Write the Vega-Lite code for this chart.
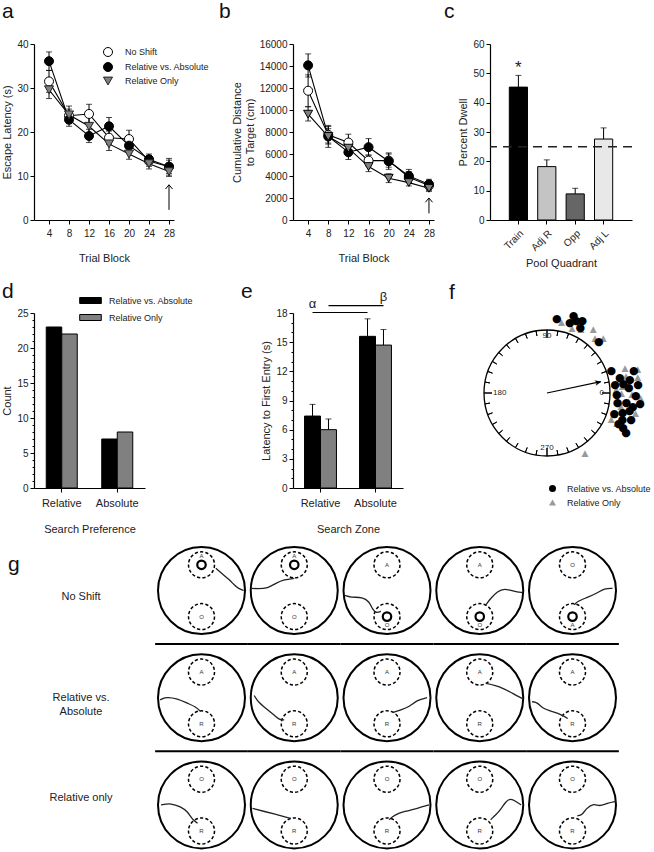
{
"$schema": "https://vega.github.io/schema/vega-lite/v6.json",
"padding": {"left": 1, "top": 1, "right": 0, "bottom": 0},
"spacing": 11,
"resolve": {
  "scale": {"fill": "independent", "shape": "independent", "color": "independent", "stroke": "independent", "xOffset": "independent", "theta": "independent", "radius": "independent"},
  "legend": {"fill": "independent", "shape": "independent", "color": "independent", "stroke": "independent"}
},
"config": {
  "font": "Liberation Sans",
  "view": {"stroke": null},
  "axis": {"labelFont": "Liberation Sans", "titleFont": "Liberation Sans", "labelFontSize": 10, "titleFontSize": 11, "titleFontWeight": "normal", "labelColor": "#222", "titleColor": "#222", "domainColor": "#000", "tickColor": "#000", "grid": false, "tickSize": 4, "labelPadding": 2, "domainWidth": 1.2, "labelOverlap": false},
  "axisX": {"titlePadding": 14, "labelPadding": 4},
  "title": {"fontSize": 21, "fontWeight": "normal", "anchor": "start", "frame": "group", "baseline": "alphabetic", "color": "#111", "font": "Liberation Sans"},
  "legend": {"labelFont": "Liberation Sans", "labelFontSize": 9, "labelColor": "#222"}
},
"datasets": {
  "lat": [
    {"block":4,"series":"No Shift","mean":31.5,"lo":29,"hi":34},
    {"block":8,"series":"No Shift","mean":23.7,"lo":22.2,"hi":25.2},
    {"block":12,"series":"No Shift","mean":24.1,"lo":22,"hi":26.3},
    {"block":16,"series":"No Shift","mean":18.7,"lo":17.2,"hi":20.2},
    {"block":20,"series":"No Shift","mean":18.4,"lo":16.4,"hi":20.4},
    {"block":24,"series":"No Shift","mean":13.4,"lo":12.2,"hi":14.6},
    {"block":28,"series":"No Shift","mean":12.1,"lo":10.2,"hi":14.0},
    {"block":4,"series":"Relative vs. Absolute","mean":36.1,"lo":34,"hi":38.2},
    {"block":8,"series":"Relative vs. Absolute","mean":22.8,"lo":21.3,"hi":24.3},
    {"block":12,"series":"Relative vs. Absolute","mean":19.1,"lo":17.6,"hi":20.6},
    {"block":16,"series":"Relative vs. Absolute","mean":21.3,"lo":19.3,"hi":23.3},
    {"block":20,"series":"Relative vs. Absolute","mean":16.9,"lo":15.4,"hi":18.4},
    {"block":24,"series":"Relative vs. Absolute","mean":13.8,"lo":12.6,"hi":15.0},
    {"block":28,"series":"Relative vs. Absolute","mean":12.1,"lo":10.6,"hi":13.6},
    {"block":4,"series":"Relative Only","mean":29.6,"lo":27.6,"hi":31.6},
    {"block":8,"series":"Relative Only","mean":23.9,"lo":21.9,"hi":25.9},
    {"block":12,"series":"Relative Only","mean":21.3,"lo":19.3,"hi":23.3},
    {"block":16,"series":"Relative Only","mean":17.3,"lo":15.8,"hi":18.8},
    {"block":20,"series":"Relative Only","mean":15.0,"lo":13.8,"hi":16.2},
    {"block":24,"series":"Relative Only","mean":12.8,"lo":11.6,"hi":14.0},
    {"block":28,"series":"Relative Only","mean":11.0,"lo":9.9,"hi":12.1}
  ],
  "dist": [
    {"block":4,"series":"No Shift","mean":11750,"lo":10300,"hi":13200},
    {"block":8,"series":"No Shift","mean":7740,"lo":7000,"hi":8500},
    {"block":12,"series":"No Shift","mean":7040,"lo":6300,"hi":7800},
    {"block":16,"series":"No Shift","mean":5400,"lo":4900,"hi":5900},
    {"block":20,"series":"No Shift","mean":5400,"lo":4800,"hi":6000},
    {"block":24,"series":"No Shift","mean":3890,"lo":3400,"hi":4400},
    {"block":28,"series":"No Shift","mean":3130,"lo":2700,"hi":3550},
    {"block":4,"series":"Relative vs. Absolute","mean":14060,"lo":13000,"hi":15100},
    {"block":8,"series":"Relative vs. Absolute","mean":7590,"lo":6600,"hi":8600},
    {"block":12,"series":"Relative vs. Absolute","mean":6160,"lo":5500,"hi":6800},
    {"block":16,"series":"Relative vs. Absolute","mean":6620,"lo":5900,"hi":7400},
    {"block":20,"series":"Relative vs. Absolute","mean":5340,"lo":4600,"hi":6100},
    {"block":24,"series":"Relative vs. Absolute","mean":4010,"lo":3400,"hi":4600},
    {"block":28,"series":"Relative vs. Absolute","mean":3250,"lo":2800,"hi":3700},
    {"block":4,"series":"Relative Only","mean":9620,"lo":9000,"hi":10300},
    {"block":8,"series":"Relative Only","mean":7590,"lo":6900,"hi":8300},
    {"block":12,"series":"Relative Only","mean":6530,"lo":6000,"hi":7100},
    {"block":16,"series":"Relative Only","mean":4860,"lo":4400,"hi":5300},
    {"block":20,"series":"Relative Only","mean":3800,"lo":3400,"hi":4200},
    {"block":24,"series":"Relative Only","mean":3400,"lo":3100,"hi":3700},
    {"block":28,"series":"Relative Only","mean":2880,"lo":2600,"hi":3150}
  ],
  "dwell": [
    {"quad":"Train","pct":45.3,"hi":49.3,"sig":"*"},
    {"quad":"Adj R","pct":18.2,"hi":20.5,"sig":""},
    {"quad":"Opp","pct":8.9,"hi":10.8,"sig":""},
    {"quad":"Adj L","pct":27.6,"hi":31.4,"sig":""}
  ],
  "pref": [
    {"pref":"Relative","grp":"Relative vs. Absolute","count":23},
    {"pref":"Relative","grp":"Relative Only","count":22},
    {"pref":"Absolute","grp":"Relative vs. Absolute","count":7},
    {"pref":"Absolute","grp":"Relative Only","count":8}
  ],
  "entry": [
    {"zone":"Relative","grp":"Relative vs. Absolute","lat":7.4,"hi":8.6},
    {"zone":"Relative","grp":"Relative Only","lat":6.0,"hi":7.1},
    {"zone":"Absolute","grp":"Relative vs. Absolute","lat":15.6,"hi":17.4},
    {"zone":"Absolute","grp":"Relative Only","lat":14.7,"hi":16.3}
  ],
  "sig": [
    {"zone":"Relative","grp":"Relative vs. Absolute","v":18.05,"s":"α"},
    {"zone":"Absolute","grp":"Relative vs. Absolute","v":18.05,"s":"α"},
    {"zone":"Relative","grp":"Relative Only","v":18.75,"s":"β"},
    {"zone":"Absolute","grp":"Relative Only","v":18.75,"s":"β"}
  ],
  "dots": [
    {"grp":"Relative Only","a":78.5,"r":1.15},
    {"grp":"Relative Only","a":69,"r":1.11},
    {"grp":"Relative Only","a":62,"r":1.15},
    {"grp":"Relative Only","a":54,"r":1.25},
    {"grp":"Relative Only","a":49,"r":1.16},
    {"grp":"Relative Only","a":44.5,"r":1.25},
    {"grp":"Relative Only","a":15,"r":1.49},
    {"grp":"Relative Only","a":18,"r":1.3},
    {"grp":"Relative Only","a":12,"r":1.28},
    {"grp":"Relative Only","a":10,"r":1.46},
    {"grp":"Relative Only","a":5,"r":1.2},
    {"grp":"Relative Only","a":3,"r":1.1},
    {"grp":"Relative Only","a":0,"r":1.18},
    {"grp":"Relative Only","a":-1,"r":1.35},
    {"grp":"Relative Only","a":-3,"r":1.49},
    {"grp":"Relative Only","a":-5.5,"r":1.3},
    {"grp":"Relative Only","a":-10,"r":1.19},
    {"grp":"Relative Only","a":-12.5,"r":1.44},
    {"grp":"Relative Only","a":-17.5,"r":1.12},
    {"grp":"Relative Only","a":-22,"r":1.1},
    {"grp":"Relative Only","a":-23,"r":1.2},
    {"grp":"Relative Only","a":-57.5,"r":1.12},
    {"grp":"Relative vs. Absolute","a":82.5,"r":1.18},
    {"grp":"Relative vs. Absolute","a":71,"r":1.29},
    {"grp":"Relative vs. Absolute","a":68,"r":1.24},
    {"grp":"Relative vs. Absolute","a":72,"r":1.17},
    {"grp":"Relative vs. Absolute","a":64,"r":1.28},
    {"grp":"Relative vs. Absolute","a":63,"r":1.16},
    {"grp":"Relative vs. Absolute","a":44.5,"r":1.15},
    {"grp":"Relative vs. Absolute","a":19,"r":1.08},
    {"grp":"Relative vs. Absolute","a":12,"r":1.18},
    {"grp":"Relative vs. Absolute","a":14,"r":1.42},
    {"grp":"Relative vs. Absolute","a":9,"r":1.33},
    {"grp":"Relative vs. Absolute","a":7,"r":1.09},
    {"grp":"Relative vs. Absolute","a":6.5,"r":1.22},
    {"grp":"Relative vs. Absolute","a":5,"r":1.45},
    {"grp":"Relative vs. Absolute","a":3.5,"r":1.3},
    {"grp":"Relative vs. Absolute","a":-2,"r":1.11},
    {"grp":"Relative vs. Absolute","a":-2,"r":1.41},
    {"grp":"Relative vs. Absolute","a":-7,"r":1.27},
    {"grp":"Relative vs. Absolute","a":-7,"r":1.49},
    {"grp":"Relative vs. Absolute","a":-8,"r":1.13},
    {"grp":"Relative vs. Absolute","a":-9,"r":1.38},
    {"grp":"Relative vs. Absolute","a":-14.5,"r":1.24},
    {"grp":"Relative vs. Absolute","a":-12,"r":1.34},
    {"grp":"Relative vs. Absolute","a":-17.5,"r":1.12},
    {"grp":"Relative vs. Absolute","a":-17.5,"r":1.4},
    {"grp":"Relative vs. Absolute","a":-19.5,"r":1.27},
    {"grp":"Relative vs. Absolute","a":-23.5,"r":1.24},
    {"grp":"Relative vs. Absolute","a":-25,"r":1.33},
    {"grp":"Relative vs. Absolute","a":-27,"r":1.41}
  ],
  "gdata": [
    {"k":"pool","g":"No Shift","t":1},{"k":"pool","g":"No Shift","t":2},{"k":"pool","g":"No Shift","t":3},{"k":"pool","g":"No Shift","t":4},{"k":"pool","g":"No Shift","t":5},
    {"k":"pool","g":"Relative vs. Absolute","t":1},{"k":"pool","g":"Relative vs. Absolute","t":2},{"k":"pool","g":"Relative vs. Absolute","t":3},{"k":"pool","g":"Relative vs. Absolute","t":4},{"k":"pool","g":"Relative vs. Absolute","t":5},
    {"k":"pool","g":"Relative only","t":1},{"k":"pool","g":"Relative only","t":2},{"k":"pool","g":"Relative only","t":3},{"k":"pool","g":"Relative only","t":4},{"k":"pool","g":"Relative only","t":5},
    {"k":"zone","g":"No Shift","t":1,"x":0,"y":0.59,"lab":"A","ring":true,"ly":0.79},
    {"k":"zone","g":"No Shift","t":1,"x":0,"y":-0.6,"lab":"O","ring":false,"ly":-0.6},
    {"k":"zone","g":"No Shift","t":2,"x":0,"y":0.59,"lab":"A","ring":true,"ly":0.79},
    {"k":"zone","g":"No Shift","t":2,"x":0,"y":-0.6,"lab":"O","ring":false,"ly":-0.6},
    {"k":"zone","g":"No Shift","t":3,"x":0,"y":0.59,"lab":"A","ring":false,"ly":0.59},
    {"k":"zone","g":"No Shift","t":3,"x":0,"y":-0.6,"lab":"O","ring":true,"ly":-0.8},
    {"k":"zone","g":"No Shift","t":4,"x":0,"y":0.59,"lab":"A","ring":false,"ly":0.59},
    {"k":"zone","g":"No Shift","t":4,"x":0,"y":-0.6,"lab":"O","ring":true,"ly":-0.8},
    {"k":"zone","g":"No Shift","t":5,"x":0,"y":0.59,"lab":"O","ring":false,"ly":0.59},
    {"k":"zone","g":"No Shift","t":5,"x":0,"y":-0.6,"lab":"A","ring":true,"ly":-0.8},
    {"k":"zone","g":"Relative vs. Absolute","t":1,"x":0,"y":0.59,"lab":"A","ring":false,"ly":0.59},
    {"k":"zone","g":"Relative vs. Absolute","t":1,"x":0,"y":-0.6,"lab":"R","ring":false,"ly":-0.6},
    {"k":"zone","g":"Relative vs. Absolute","t":2,"x":0,"y":0.59,"lab":"A","ring":false,"ly":0.59},
    {"k":"zone","g":"Relative vs. Absolute","t":2,"x":0,"y":-0.6,"lab":"R","ring":false,"ly":-0.6},
    {"k":"zone","g":"Relative vs. Absolute","t":3,"x":0,"y":0.59,"lab":"A","ring":false,"ly":0.59},
    {"k":"zone","g":"Relative vs. Absolute","t":3,"x":0,"y":-0.6,"lab":"R","ring":false,"ly":-0.6},
    {"k":"zone","g":"Relative vs. Absolute","t":4,"x":0,"y":0.59,"lab":"A","ring":false,"ly":0.59},
    {"k":"zone","g":"Relative vs. Absolute","t":4,"x":0,"y":-0.6,"lab":"R","ring":false,"ly":-0.6},
    {"k":"zone","g":"Relative vs. Absolute","t":5,"x":0,"y":0.59,"lab":"A","ring":false,"ly":0.59},
    {"k":"zone","g":"Relative vs. Absolute","t":5,"x":0,"y":-0.6,"lab":"R","ring":false,"ly":-0.6},
    {"k":"zone","g":"Relative only","t":1,"x":0,"y":0.59,"lab":"O","ring":false,"ly":0.59},
    {"k":"zone","g":"Relative only","t":1,"x":0,"y":-0.6,"lab":"R","ring":false,"ly":-0.6},
    {"k":"zone","g":"Relative only","t":2,"x":0,"y":0.59,"lab":"O","ring":false,"ly":0.59},
    {"k":"zone","g":"Relative only","t":2,"x":0,"y":-0.6,"lab":"R","ring":false,"ly":-0.6},
    {"k":"zone","g":"Relative only","t":3,"x":0,"y":0.59,"lab":"O","ring":false,"ly":0.59},
    {"k":"zone","g":"Relative only","t":3,"x":0,"y":-0.6,"lab":"R","ring":false,"ly":-0.6},
    {"k":"zone","g":"Relative only","t":4,"x":0,"y":0.59,"lab":"O","ring":false,"ly":0.59},
    {"k":"zone","g":"Relative only","t":4,"x":0,"y":-0.6,"lab":"R","ring":false,"ly":-0.6},
    {"k":"zone","g":"Relative only","t":5,"x":0,"y":0.59,"lab":"O","ring":false,"ly":0.59},
    {"k":"zone","g":"Relative only","t":5,"x":0,"y":-0.6,"lab":"R","ring":false,"ly":-0.6},
    {"k":"path","g":"No Shift","t":1,"i":0,"x":0.33,"y":0.51},{"k":"path","g":"No Shift","t":1,"i":1,"x":0.48,"y":0.38},{"k":"path","g":"No Shift","t":1,"i":2,"x":0.64,"y":0.25},{"k":"path","g":"No Shift","t":1,"i":3,"x":0.75,"y":0.13},{"k":"path","g":"No Shift","t":1,"i":4,"x":0.84,"y":0.05},{"k":"path","g":"No Shift","t":1,"i":5,"x":0.97,"y":0},
    {"k":"path","g":"No Shift","t":2,"i":0,"x":-1.0,"y":0.05},{"k":"path","g":"No Shift","t":2,"i":1,"x":-0.84,"y":0.04},{"k":"path","g":"No Shift","t":2,"i":2,"x":-0.61,"y":0.05},{"k":"path","g":"No Shift","t":2,"i":3,"x":-0.42,"y":0.17},{"k":"path","g":"No Shift","t":2,"i":4,"x":-0.23,"y":0.25},{"k":"path","g":"No Shift","t":2,"i":5,"x":0,"y":0.28},
    {"k":"path","g":"No Shift","t":3,"i":0,"x":-0.98,"y":-0.11},{"k":"path","g":"No Shift","t":3,"i":1,"x":-0.83,"y":-0.16},{"k":"path","g":"No Shift","t":3,"i":2,"x":-0.56,"y":-0.15},{"k":"path","g":"No Shift","t":3,"i":3,"x":-0.41,"y":-0.25},{"k":"path","g":"No Shift","t":3,"i":4,"x":-0.33,"y":-0.44},{"k":"path","g":"No Shift","t":3,"i":5,"x":-0.25,"y":-0.52},{"k":"path","g":"No Shift","t":3,"i":6,"x":-0.14,"y":-0.48},
    {"k":"path","g":"No Shift","t":4,"i":0,"x":0.98,"y":-0.05},{"k":"path","g":"No Shift","t":4,"i":1,"x":0.79,"y":-0.02},{"k":"path","g":"No Shift","t":4,"i":2,"x":0.56,"y":0.05},{"k":"path","g":"No Shift","t":4,"i":3,"x":0.41,"y":-0.02},{"k":"path","g":"No Shift","t":4,"i":4,"x":0.25,"y":-0.18},{"k":"path","g":"No Shift","t":4,"i":5,"x":0.14,"y":-0.33},
    {"k":"path","g":"No Shift","t":5,"i":0,"x":0.92,"y":0.05},{"k":"path","g":"No Shift","t":5,"i":1,"x":0.73,"y":0.05},{"k":"path","g":"No Shift","t":5,"i":2,"x":0.57,"y":-0.06},{"k":"path","g":"No Shift","t":5,"i":3,"x":0.34,"y":-0.16},{"k":"path","g":"No Shift","t":5,"i":4,"x":0.11,"y":-0.25},{"k":"path","g":"No Shift","t":5,"i":5,"x":0.04,"y":-0.33},
    {"k":"path","g":"Relative vs. Absolute","t":1,"i":0,"x":-0.95,"y":-0.05},{"k":"path","g":"Relative vs. Absolute","t":1,"i":1,"x":-0.82,"y":0.02},{"k":"path","g":"Relative vs. Absolute","t":1,"i":2,"x":-0.55,"y":-0.02},{"k":"path","g":"Relative vs. Absolute","t":1,"i":3,"x":-0.32,"y":-0.13},{"k":"path","g":"Relative vs. Absolute","t":1,"i":4,"x":-0.13,"y":-0.21},{"k":"path","g":"Relative vs. Absolute","t":1,"i":5,"x":-0.02,"y":-0.32},
    {"k":"path","g":"Relative vs. Absolute","t":2,"i":0,"x":-0.92,"y":0.05},{"k":"path","g":"Relative vs. Absolute","t":2,"i":1,"x":-0.84,"y":-0.09},{"k":"path","g":"Relative vs. Absolute","t":2,"i":2,"x":-0.65,"y":-0.25},{"k":"path","g":"Relative vs. Absolute","t":2,"i":3,"x":-0.46,"y":-0.40},{"k":"path","g":"Relative vs. Absolute","t":2,"i":4,"x":-0.34,"y":-0.51},{"k":"path","g":"Relative vs. Absolute","t":2,"i":5,"x":-0.23,"y":-0.51},
    {"k":"path","g":"Relative vs. Absolute","t":3,"i":0,"x":0.92,"y":0},{"k":"path","g":"Relative vs. Absolute","t":3,"i":1,"x":0.70,"y":-0.05},{"k":"path","g":"Relative vs. Absolute","t":3,"i":2,"x":0.51,"y":-0.21},{"k":"path","g":"Relative vs. Absolute","t":3,"i":3,"x":0.32,"y":-0.28},{"k":"path","g":"Relative vs. Absolute","t":3,"i":4,"x":0.13,"y":-0.34},
    {"k":"path","g":"Relative vs. Absolute","t":4,"i":0,"x":0.14,"y":0.33},{"k":"path","g":"Relative vs. Absolute","t":4,"i":1,"x":0.33,"y":0.29},{"k":"path","g":"Relative vs. Absolute","t":4,"i":2,"x":0.56,"y":0.21},{"k":"path","g":"Relative vs. Absolute","t":4,"i":3,"x":0.75,"y":0.10},{"k":"path","g":"Relative vs. Absolute","t":4,"i":4,"x":0.98,"y":-0.02},
    {"k":"path","g":"Relative vs. Absolute","t":5,"i":0,"x":-0.93,"y":-0.09},{"k":"path","g":"Relative vs. Absolute","t":5,"i":1,"x":-0.80,"y":-0.11},{"k":"path","g":"Relative vs. Absolute","t":5,"i":2,"x":-0.69,"y":-0.25},{"k":"path","g":"Relative vs. Absolute","t":5,"i":3,"x":-0.46,"y":-0.32},{"k":"path","g":"Relative vs. Absolute","t":5,"i":4,"x":-0.23,"y":-0.40},{"k":"path","g":"Relative vs. Absolute","t":5,"i":5,"x":-0.11,"y":-0.48},
    {"k":"path","g":"Relative only","t":1,"i":0,"x":-0.93,"y":0},{"k":"path","g":"Relative only","t":1,"i":1,"x":-0.70,"y":0.04},{"k":"path","g":"Relative only","t":1,"i":2,"x":-0.48,"y":-0.04},{"k":"path","g":"Relative only","t":1,"i":3,"x":-0.32,"y":-0.15},{"k":"path","g":"Relative only","t":1,"i":4,"x":-0.21,"y":-0.34},{"k":"path","g":"Relative only","t":1,"i":5,"x":-0.09,"y":-0.42},
    {"k":"path","g":"Relative only","t":2,"i":0,"x":-0.96,"y":-0.08},{"k":"path","g":"Relative only","t":2,"i":1,"x":-0.69,"y":-0.15},{"k":"path","g":"Relative only","t":2,"i":2,"x":-0.38,"y":-0.23},{"k":"path","g":"Relative only","t":2,"i":3,"x":-0.08,"y":-0.31},
    {"k":"path","g":"Relative only","t":3,"i":0,"x":0.97,"y":0},{"k":"path","g":"Relative only","t":3,"i":1,"x":0.70,"y":-0.08},{"k":"path","g":"Relative only","t":3,"i":2,"x":0.40,"y":-0.15},{"k":"path","g":"Relative only","t":3,"i":3,"x":0.17,"y":-0.23},{"k":"path","g":"Relative only","t":3,"i":4,"x":0.05,"y":-0.34},
    {"k":"path","g":"Relative only","t":4,"i":0,"x":0.95,"y":0},{"k":"path","g":"Relative only","t":4,"i":1,"x":0.83,"y":0.08},{"k":"path","g":"Relative only","t":4,"i":2,"x":0.71,"y":0.15},{"k":"path","g":"Relative only","t":4,"i":3,"x":0.60,"y":0.08},{"k":"path","g":"Relative only","t":4,"i":4,"x":0.48,"y":-0.11},{"k":"path","g":"Relative only","t":4,"i":5,"x":0.37,"y":-0.23},{"k":"path","g":"Relative only","t":4,"i":6,"x":0.25,"y":-0.34},
    {"k":"path","g":"Relative only","t":5,"i":0,"x":1.0,"y":0.08},{"k":"path","g":"Relative only","t":5,"i":1,"x":0.80,"y":0.04},{"k":"path","g":"Relative only","t":5,"i":2,"x":0.61,"y":-0.04},{"k":"path","g":"Relative only","t":5,"i":3,"x":0.50,"y":0.04},{"k":"path","g":"Relative only","t":5,"i":4,"x":0.31,"y":-0.08},{"k":"path","g":"Relative only","t":5,"i":5,"x":0.23,"y":-0.23},{"k":"path","g":"Relative only","t":5,"i":6,"x":0.11,"y":-0.25}
  ]
},
"vconcat": [
  {"hconcat": [
    {
      "width": 140, "height": 176,
      "title": {"text": "a", "dx": -32, "offset": 17},
      "data": {"name": "lat"},
      "layer": [
        {"mark": {"type": "rule", "color": "#000", "strokeWidth": 1},
         "encoding": {
           "x": {"field": "block", "type": "quantitative", "scale": {"domain": [1, 29], "nice": false}, "axis": {"values": [4,8,12,16,20,24,28], "tickCount": 30, "format": "d", "title": "Trial Block", "labelOverlap": false}},
           "y": {"field": "lo", "type": "quantitative", "scale": {"domain": [0, 40]}, "axis": {"values": [0,10,20,30,40], "tickCount": 30, "format": "d", "title": "Escape Latency (s)", "labelOverlap": false}},
           "y2": {"field": "hi"}}},
        {"mark": {"type": "tick", "orient": "horizontal", "size": 6, "thickness": 1, "color": "#000"},
         "encoding": {"x": {"field": "block", "type": "quantitative"}, "y": {"field": "hi", "type": "quantitative"}}},
        {"mark": {"type": "tick", "orient": "horizontal", "size": 6, "thickness": 1, "color": "#000"},
         "encoding": {"x": {"field": "block", "type": "quantitative"}, "y": {"field": "lo", "type": "quantitative"}}},
        {"mark": {"type": "line", "color": "#000", "strokeWidth": 1.1},
         "encoding": {"x": {"field": "block", "type": "quantitative"}, "y": {"field": "mean", "type": "quantitative"}, "detail": {"field": "series"}}},
        {"mark": {"type": "point", "filled": true, "strokeWidth": 1, "size": 81, "opacity": 1},
         "encoding": {
           "x": {"field": "block", "type": "quantitative"}, "y": {"field": "mean", "type": "quantitative"},
           "shape": {"field": "series", "type": "nominal", "scale": {"domain": ["No Shift","Relative vs. Absolute","Relative Only"], "range": ["circle","circle","triangle-down"]},
             "legend": {"title": null, "orient": "none", "legendX": 69, "legendY": 3, "symbolSize": 81, "symbolStrokeWidth": 1, "labelOffset": 12, "rowPadding": 1}},
           "fill": {"field": "series", "type": "nominal", "scale": {"domain": ["No Shift","Relative vs. Absolute","Relative Only"], "range": ["#ffffff","#000000","#808080"]},
             "legend": {"title": null, "orient": "none", "legendX": 69, "legendY": 3, "symbolSize": 81, "symbolStrokeWidth": 1, "labelOffset": 12, "rowPadding": 1}},
           "stroke": {"field": "series", "type": "nominal", "scale": {"domain": ["No Shift","Relative vs. Absolute","Relative Only"], "range": ["#000000","#000000","#222222"]},
             "legend": {"title": null, "orient": "none", "legendX": 69, "legendY": 3, "symbolSize": 81, "symbolStrokeWidth": 1, "labelOffset": 12, "rowPadding": 1}}}},
        {"data": {"values": [{"block": 28, "y0": 2.3, "y1": 8}]},
         "mark": {"type": "rule", "color": "#000", "strokeWidth": 1},
         "encoding": {"x": {"field": "block", "type": "quantitative"}, "y": {"field": "y0", "type": "quantitative"}, "y2": {"field": "y1"}}},
        {"data": {"values": [{"block": 28, "y1": 8}]},
         "mark": {"type": "point", "shape": "M-1,1.2L0,0L1,1.2", "filled": false, "color": "#000", "strokeWidth": 1, "size": 50, "opacity": 1},
         "encoding": {"x": {"field": "block", "type": "quantitative"}, "y": {"field": "y1", "type": "quantitative"}}}
      ]
    },
    {"width": 119, "height": 1, "data": {"values": []}, "mark": "point"},
    {
      "width": 141, "height": 176,
      "title": {"text": "b", "dx": -74, "offset": 17},
      "data": {"name": "dist"},
      "layer": [
        {"mark": {"type": "rule", "color": "#000", "strokeWidth": 1},
         "encoding": {
           "x": {"field": "block", "type": "quantitative", "scale": {"domain": [1, 29], "nice": false}, "axis": {"values": [4,8,12,16,20,24,28], "tickCount": 30, "format": "d", "title": "Trial Block", "labelOverlap": false}},
           "y": {"field": "lo", "type": "quantitative", "scale": {"domain": [0, 16000]}, "axis": {"values": [0,2000,4000,6000,8000,10000,12000,14000,16000], "tickCount": 30, "format": "d", "title": ["Cumulative Distance", "to Target (cm)"], "labelOverlap": false}},
           "y2": {"field": "hi"}}},
        {"mark": {"type": "tick", "orient": "horizontal", "size": 6, "thickness": 1, "color": "#000"},
         "encoding": {"x": {"field": "block", "type": "quantitative"}, "y": {"field": "hi", "type": "quantitative"}}},
        {"mark": {"type": "tick", "orient": "horizontal", "size": 6, "thickness": 1, "color": "#000"},
         "encoding": {"x": {"field": "block", "type": "quantitative"}, "y": {"field": "lo", "type": "quantitative"}}},
        {"mark": {"type": "line", "color": "#000", "strokeWidth": 1.1},
         "encoding": {"x": {"field": "block", "type": "quantitative"}, "y": {"field": "mean", "type": "quantitative"}, "detail": {"field": "series"}}},
        {"mark": {"type": "point", "filled": true, "stroke": "#000", "strokeWidth": 1, "size": 81, "opacity": 1},
         "encoding": {
           "x": {"field": "block", "type": "quantitative"}, "y": {"field": "mean", "type": "quantitative"},
           "shape": {"field": "series", "type": "nominal", "scale": {"domain": ["No Shift","Relative vs. Absolute","Relative Only"], "range": ["circle","circle","triangle-down"]}, "legend": null},
           "fill": {"field": "series", "type": "nominal", "scale": {"domain": ["No Shift","Relative vs. Absolute","Relative Only"], "range": ["#ffffff","#000000","#808080"]}, "legend": null}}},
        {"data": {"values": [{"block": 28, "y0": 600, "y1": 2000}]},
         "mark": {"type": "rule", "color": "#000", "strokeWidth": 1},
         "encoding": {"x": {"field": "block", "type": "quantitative"}, "y": {"field": "y0", "type": "quantitative"}, "y2": {"field": "y1"}}},
        {"data": {"values": [{"block": 28, "y1": 2000}]},
         "mark": {"type": "point", "shape": "M-1,1.2L0,0L1,1.2", "filled": false, "stroke": "#000", "strokeWidth": 1, "size": 50, "opacity": 1},
         "encoding": {"x": {"field": "block", "type": "quantitative"}, "y": {"field": "y1", "type": "quantitative"}}}
      ]
    },
    {"width": 56, "height": 1, "data": {"values": []}, "mark": "point"},
    {
      "width": 142, "height": 176,
      "title": {"text": "c", "dx": -46, "offset": 17},
      "data": {"name": "dwell"},
      "layer": [
        {"mark": {"type": "bar", "stroke": "#000", "strokeWidth": 1},
         "encoding": {
           "x": {"field": "quad", "type": "nominal", "sort": null, "scale": {"paddingInner": 0.36, "paddingOuter": 0.68}, "axis": {"labelAngle": -45, "title": "Pool Quadrant", "titlePadding": 5, "labelOverlap": false}},
           "y": {"field": "pct", "type": "quantitative", "scale": {"domain": [0, 60]}, "axis": {"values": [0,10,20,30,40,50,60], "tickCount": 30, "format": "d", "title": "Percent Dwell", "labelOverlap": false}},
           "fill": {"field": "quad", "type": "nominal", "scale": {"domain": ["Train","Adj R","Opp","Adj L"], "range": ["#000000","#c4c4c4","#666666","#e8e8e8"]}, "legend": null}}},
        {"mark": {"type": "rule", "color": "#000", "strokeWidth": 1},
         "encoding": {"x": {"field": "quad", "type": "nominal", "sort": null}, "y": {"field": "pct", "type": "quantitative"}, "y2": {"field": "hi"}}},
        {"mark": {"type": "tick", "orient": "horizontal", "size": 6, "thickness": 1, "color": "#000"},
         "encoding": {"x": {"field": "quad", "type": "nominal", "sort": null}, "y": {"field": "hi", "type": "quantitative"}}},
        {"mark": {"type": "text", "fontSize": 17, "dy": 2, "baseline": "bottom", "color": "#222"},
         "encoding": {"x": {"field": "quad", "type": "nominal", "sort": null}, "y": {"field": "hi", "type": "quantitative"}, "text": {"field": "sig"}}},
        {"data": {"values": [{"chance": 25}]},
         "mark": {"type": "rule", "color": "#222", "strokeWidth": 1.5, "strokeDash": [9, 6]},
         "encoding": {"y": {"field": "chance", "type": "quantitative"}}}
      ]
    }
  ], "spacing": 0, "bounds": "flush",
  "resolve": {"scale": {"fill": "independent", "shape": "independent", "stroke": "independent"}, "legend": {"fill": "independent", "shape": "independent", "stroke": "independent"}}},
  {"vconcat": [
    {"hconcat": [
      {
        "width": 111, "height": 175,
        "title": {"text": "d", "dx": -32, "offset": -8},
        "data": {"name": "pref"},
        "mark": {"type": "bar", "stroke": "#000", "strokeWidth": 1},
        "encoding": {
          "x": {"field": "pref", "type": "nominal", "sort": ["Relative","Absolute"], "scale": {"paddingInner": 0.1, "paddingOuter": 0.05}, "axis": {"title": "Search Preference", "labelAngle": 0, "labelFontSize": 11, "labelPadding": 5, "titlePadding": 15, "labelOverlap": false}},
          "xOffset": {"field": "grp", "type": "nominal", "sort": ["Relative vs. Absolute","Relative Only"], "scale": {"paddingInner": 0, "paddingOuter": 0.61}},
          "y": {"field": "count", "type": "quantitative", "scale": {"domain": [0, 25]},
                "axis": {"values": [0,1,2,3,4,5,6,7,8,9,10,11,12,13,14,15,16,17,18,19,20,21,22,23,24,25], "tickCount": 30, "format": "d", "labelOverlap": false, "labelExpr": "datum.value % 5 === 0 ? datum.label : ''", "tickSize": {"condition": {"test": "datum.value % 5 === 0", "value": 4}, "value": 2}, "title": "Count"}},
          "fill": {"field": "grp", "type": "nominal", "scale": {"domain": ["Relative vs. Absolute","Relative Only"], "range": ["#000000","#808080"]},
                   "legend": {"title": null, "orient": "none", "legendX": 50, "legendY": -19, "symbolType": "M-1.8,-0.5H1.8V0.5H-1.8Z", "symbolSize": 144, "symbolStrokeColor": "#000", "symbolStrokeWidth": 1, "labelOffset": 12, "rowPadding": 5}}
        }
      },
      {"width": 148, "height": 1, "data": {"values": []}, "mark": "point"},
      {
        "width": 110, "height": 175,
        "title": {"text": "e", "dx": -52, "offset": -11},
        "layer": [
          {"data": {"name": "entry"},
           "mark": {"type": "bar", "stroke": "#000", "strokeWidth": 1},
           "encoding": {
             "x": {"field": "zone", "type": "nominal", "sort": ["Relative","Absolute"], "scale": {"paddingInner": 0.1, "paddingOuter": 0.05}, "axis": {"title": "Search Zone", "labelAngle": 0, "labelFontSize": 11, "labelPadding": 5, "titlePadding": 15, "labelOverlap": false}},
             "xOffset": {"field": "grp", "type": "nominal", "sort": ["Relative vs. Absolute","Relative Only"], "scale": {"paddingInner": 0, "paddingOuter": 0.55}},
             "y": {"field": "lat", "type": "quantitative", "scale": {"domain": [0, 18]},
                   "axis": {"values": [0,1,2,3,4,5,6,7,8,9,10,11,12,13,14,15,16,17,18], "tickCount": 30, "format": "d", "labelOverlap": false, "labelExpr": "datum.value % 3 === 0 ? datum.label : ''", "tickSize": {"condition": {"test": "datum.value % 3 === 0", "value": 4}, "value": 2}, "title": "Latency to First Entry (s)"}},
             "fill": {"field": "grp", "type": "nominal", "scale": {"domain": ["Relative vs. Absolute","Relative Only"], "range": ["#000000","#808080"]}, "legend": null}}},
          {"data": {"name": "entry"},
           "mark": {"type": "rule", "color": "#000", "strokeWidth": 1},
           "encoding": {"x": {"field": "zone", "type": "nominal", "sort": ["Relative","Absolute"]}, "xOffset": {"field": "grp", "type": "nominal", "sort": ["Relative vs. Absolute","Relative Only"]}, "y": {"field": "lat", "type": "quantitative"}, "y2": {"field": "hi"}}},
          {"data": {"name": "entry"},
           "mark": {"type": "tick", "orient": "horizontal", "size": 6, "thickness": 1, "color": "#000"},
           "encoding": {"x": {"field": "zone", "type": "nominal", "sort": ["Relative","Absolute"]}, "xOffset": {"field": "grp", "type": "nominal", "sort": ["Relative vs. Absolute","Relative Only"]}, "y": {"field": "hi", "type": "quantitative"}}},
          {"data": {"name": "sig"},
           "mark": {"type": "line", "color": "#000", "strokeWidth": 1.2},
           "encoding": {"x": {"field": "zone", "type": "nominal", "sort": ["Relative","Absolute"]}, "xOffset": {"field": "grp", "type": "nominal", "sort": ["Relative vs. Absolute","Relative Only"]}, "y": {"field": "v", "type": "quantitative"}, "detail": {"field": "s"}}},
          {"data": {"name": "sig"},
           "transform": [{"filter": "(datum.s === 'α' && datum.zone === 'Relative') || (datum.s === 'β' && datum.zone === 'Absolute')"}],
           "mark": {"type": "text", "fontSize": 13, "baseline": "bottom", "dy": -2, "color": "#222"},
           "encoding": {"x": {"field": "zone", "type": "nominal", "sort": ["Relative","Absolute"]}, "xOffset": {"field": "grp", "type": "nominal", "sort": ["Relative vs. Absolute","Relative Only"]}, "y": {"field": "v", "type": "quantitative"}, "text": {"field": "s"}}}
        ]
      },
      {"width": 62, "height": 1, "data": {"values": []}, "mark": "point"},
      {
        "width": 164, "height": 160,
        "title": {"text": "f", "dx": -16, "offset": 7},
        "layer": [
          {"data": {"values": [{"n": 1}]},
           "mark": {"type": "arc", "theta": 0, "theta2": 6.2832, "radius": 63, "radius2": 0, "filled": false, "stroke": "#000", "strokeWidth": 1.3},
           "encoding": {}},
          {"data": {"values": [{"a":10},{"a":20},{"a":30},{"a":40},{"a":50},{"a":60},{"a":70},{"a":80},{"a":100},{"a":110},{"a":120},{"a":130},{"a":140},{"a":150},{"a":160},{"a":170},{"a":190},{"a":200},{"a":210},{"a":220},{"a":230},{"a":240},{"a":250},{"a":260},{"a":280},{"a":290},{"a":300},{"a":310},{"a":320},{"a":330},{"a":340},{"a":350}]},
           "mark": {"type": "arc", "radius": 63, "radius2": 58, "filled": false, "stroke": "#000", "strokeWidth": 1},
           "encoding": {"theta": {"field": "a", "type": "quantitative", "stack": null, "scale": {"type": "linear", "domain": [0, 360], "range": [1.5708, -4.7124], "zero": false, "nice": false}}, "theta2": {"field": "a"}}},
          {"data": {"values": [{"a":0},{"a":90},{"a":180},{"a":270}]},
           "mark": {"type": "arc", "radius": 63, "radius2": 55, "filled": false, "stroke": "#000", "strokeWidth": 1},
           "encoding": {"theta": {"field": "a", "type": "quantitative", "stack": null}, "theta2": {"field": "a"}}},
          {"data": {"values": [{"a":0,"r":0.87,"lab":"0"},{"a":90,"r":0.9,"lab":"90"},{"a":180,"r":0.75,"lab":"180"},{"a":270,"r":0.88,"lab":"270"}]},
           "mark": {"type": "text", "fontSize": 8, "color": "#222", "align": "center", "baseline": "middle"},
           "encoding": {"theta": {"field": "a", "type": "quantitative", "stack": null}, "radius": {"field": "r", "type": "quantitative", "scale": {"type": "linear", "domain": [0, 1], "range": [0, 63], "zero": true, "nice": false}}, "text": {"field": "lab"}}},
          {"data": {"values": [{"a": 12}]},
           "mark": {"type": "arc", "radius": 55, "radius2": 0, "filled": false, "stroke": "#000", "strokeWidth": 1.2},
           "encoding": {"theta": {"field": "a", "type": "quantitative", "stack": null}, "theta2": {"field": "a"}}},
          {"data": {"values": [{"a": 12}]},
           "mark": {"type": "text", "text": "➤", "radius": 52, "angle": -12, "fontSize": 9, "font": "DejaVu Sans", "align": "center", "baseline": "middle", "color": "#000"},
           "encoding": {"theta": {"field": "a", "type": "quantitative", "stack": null}}},
          {"data": {"name": "dots"},
           "transform": [{"filter": "datum.grp === 'Relative Only'"}],
           "mark": {"type": "text", "text": "▲", "fontSize": 9, "font": "DejaVu Sans", "align": "center", "baseline": "middle", "color": "#9a9a9a"},
           "encoding": {"theta": {"field": "a", "type": "quantitative", "stack": null}, "radius": {"field": "r", "type": "quantitative"}}},
          {"data": {"name": "dots"},
           "transform": [{"filter": "datum.grp === 'Relative vs. Absolute'"}],
           "mark": {"type": "text", "text": "●", "fontSize": 11, "font": "DejaVu Sans", "align": "center", "baseline": "middle", "color": "#000"},
           "encoding": {"theta": {"field": "a", "type": "quantitative", "stack": null}, "radius": {"field": "r", "type": "quantitative"}}},
          {"data": {"name": "dots"},
           "mark": {"type": "point", "filled": true, "opacity": 0},
           "encoding": {
             "shape": {"field": "grp", "type": "nominal", "scale": {"domain": ["Relative vs. Absolute","Relative Only"], "range": ["circle","triangle-up"]},
               "legend": {"title": null, "orient": "none", "legendX": 83, "legendY": 171, "symbolSize": 49, "symbolOpacity": 1, "labelOffset": 10, "rowPadding": 1}},
             "color": {"field": "grp", "type": "nominal", "scale": {"domain": ["Relative vs. Absolute","Relative Only"], "range": ["#000000","#9a9a9a"]},
               "legend": {"title": null, "orient": "none", "legendX": 83, "legendY": 171, "symbolSize": 49, "symbolOpacity": 1, "labelOffset": 10, "rowPadding": 1}}}}
        ]
      }
    ], "spacing": 0, "bounds": "flush",
    "resolve": {"scale": {"fill": "independent", "shape": "independent", "color": "independent", "xOffset": "independent"}, "legend": {"fill": "independent", "shape": "independent", "color": "independent"}}},
    {"hconcat": [
      {
        "width": 94, "height": 301.4,
        "title": {"text": "g", "dx": -26, "offset": -28},
        "data": {"values": [{"lab": "No Shift"}, {"lab": "Relative vs.\nAbsolute"}, {"lab": "Relative only"}]},
        "mark": {"type": "text", "lineBreak": "\n", "fontSize": 11, "color": "#222", "lineHeight": 14},
        "encoding": {
          "y": {"field": "lab", "type": "nominal", "sort": null, "scale": {"paddingInner": 0.188, "paddingOuter": 0}, "axis": null},
          "text": {"field": "lab"}
        }
      },
      {"width": 30, "height": 1, "data": {"values": []}, "mark": "point"},
      {
        "data": {"name": "gdata"},
        "bounds": "flush",
        "spacing": {"row": 20.2, "column": 5.75},
        "facet": {
          "row": {"field": "g", "type": "nominal", "sort": ["No Shift","Relative vs. Absolute","Relative only"], "header": null},
          "column": {"field": "t", "type": "ordinal", "header": null}
        },
        "spec": {
          "width": 87, "height": 87,
          "layer": [
            {"transform": [{"filter": "datum.k === 'pool'"}],
             "mark": {"type": "point", "size": 7569, "filled": false, "stroke": "#000", "strokeWidth": 2, "opacity": 1},
             "encoding": {"x": {"datum": 0, "type": "quantitative", "scale": {"domain": [-1, 1], "nice": false, "zero": false}, "axis": null},
                          "y": {"datum": 0, "type": "quantitative", "scale": {"domain": [-1, 1], "nice": false, "zero": false}, "axis": null}}},
            {"transform": [{"filter": "datum.k === 'pool' && datum.g !== 'Relative only'"}],
             "mark": {"type": "rule", "strokeWidth": 2, "color": "#000"},
             "encoding": {"x": {"datum": -1.066, "type": "quantitative"}, "x2": {"datum": 1.066}, "y": {"datum": -1.232, "type": "quantitative"}}},
            {"transform": [{"filter": "datum.k === 'zone'"}],
             "mark": {"type": "point", "size": 676, "filled": false, "stroke": "#000", "strokeWidth": 1.5, "strokeDash": [3.2, 2.2], "opacity": 1},
             "encoding": {"x": {"field": "x", "type": "quantitative"}, "y": {"field": "y", "type": "quantitative"}}},
            {"transform": [{"filter": "datum.k === 'zone' && datum.ring"}],
             "mark": {"type": "point", "size": 72, "filled": false, "stroke": "#000", "strokeWidth": 2.2, "opacity": 1},
             "encoding": {"x": {"field": "x", "type": "quantitative"}, "y": {"field": "y", "type": "quantitative"}}},
            {"transform": [{"filter": "datum.k === 'zone'"}],
             "mark": {"type": "text", "fontSize": 6, "color": "#333", "align": "center", "baseline": "middle"},
             "encoding": {"x": {"field": "x", "type": "quantitative"}, "y": {"field": "ly", "type": "quantitative"}, "text": {"field": "lab"}}},
            {"transform": [{"filter": "datum.k === 'path'"}],
             "mark": {"type": "line", "interpolate": "basis", "strokeWidth": 1.3, "color": "#222"},
             "encoding": {"x": {"field": "x", "type": "quantitative"}, "y": {"field": "y", "type": "quantitative"}, "order": {"field": "i", "type": "quantitative"}}}
          ]
        }
      }
    ], "spacing": 0, "bounds": "flush"}
  ], "spacing": 9,
  "resolve": {"scale": {"fill": "independent", "shape": "independent", "color": "independent", "xOffset": "independent"}, "legend": {"fill": "independent", "shape": "independent", "color": "independent"}}}
]
}
